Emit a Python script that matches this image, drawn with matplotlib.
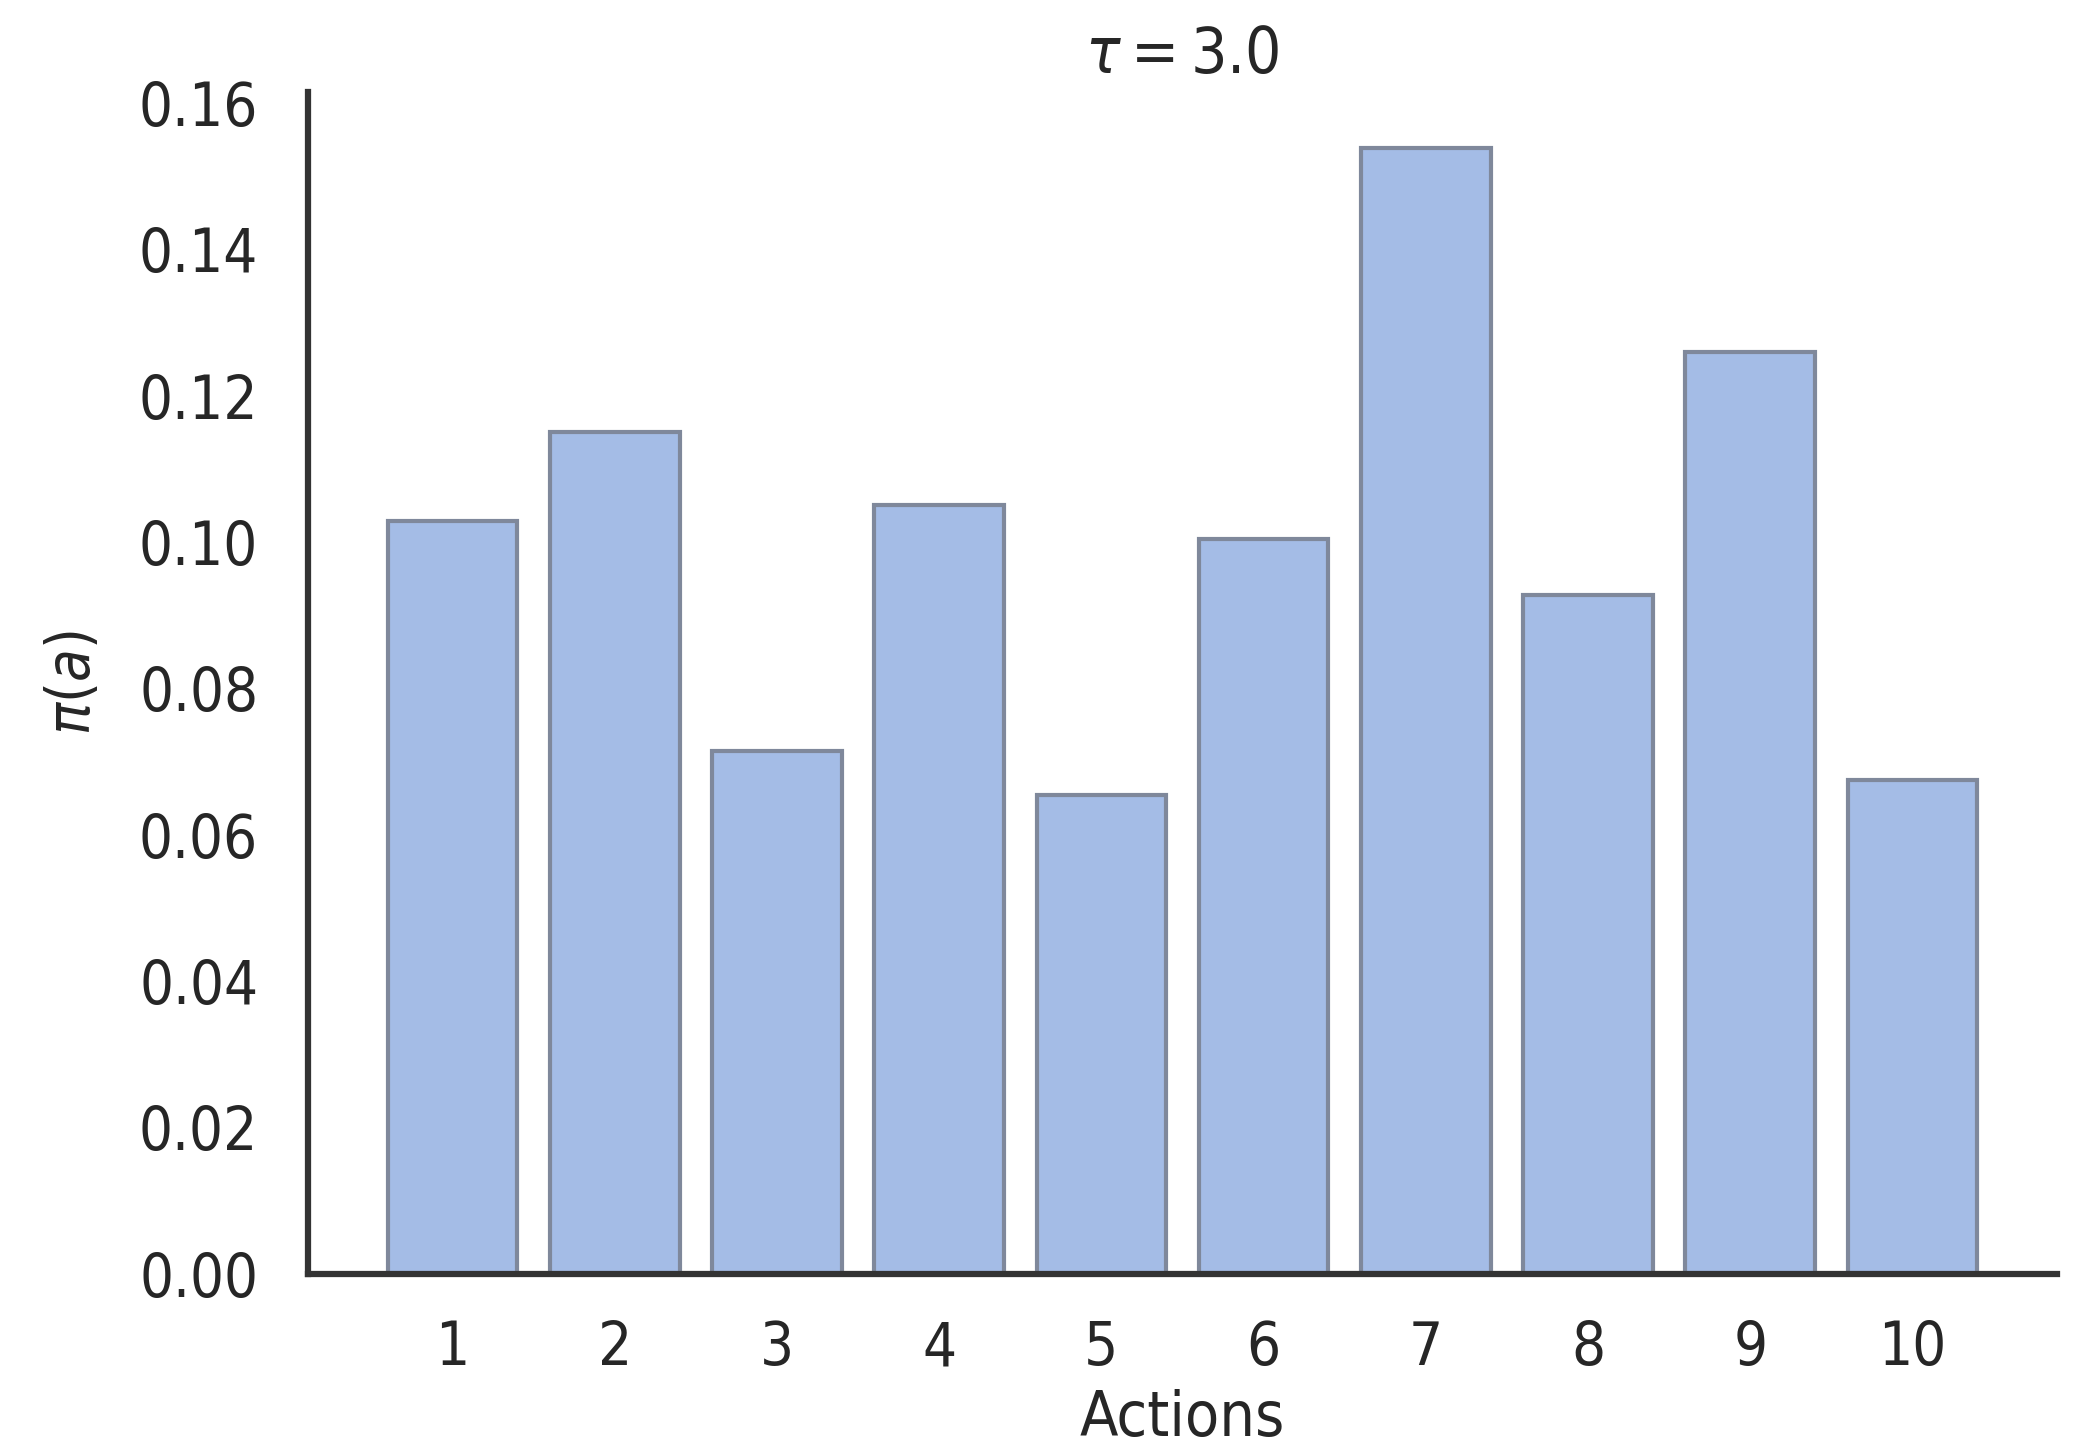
import numpy as np
import matplotlib
matplotlib.use("Agg")
import matplotlib.pyplot as plt

# softmax policy values
actions = [1, 2, 3, 4, 5, 6, 7, 8, 9, 10]
probs = [0.1028, 0.1150, 0.0714, 0.1050, 0.0654, 0.1004, 0.1538, 0.0928, 0.1259, 0.0674]
tau = 3.0

plt.rcParams['font.family'] = ['DejaVu Sans']
plt.rcParams['font.stretch'] = 'condensed'
plt.rcParams['mathtext.fontset'] = 'dejavusans'

fig = plt.figure(figsize=(20.74, 14.48), dpi=100)
ax = fig.add_axes([0.1486, 0.1205, 0.8431, 0.816])

ax.bar(actions, probs, width=0.8, color='#a4bce6', edgecolor='#7f889b', linewidth=3)

ax.set_xticks(actions)
ax.set_xticklabels([str(a) for a in actions])
ax.set_yticks(np.arange(0, 0.17, 0.02))
ax.set_yticklabels(['%.2f' % v for v in np.arange(0, 0.17, 0.02)])

for s in ['top', 'right']:
    ax.spines[s].set_visible(False)
for s in ['left', 'bottom']:
    ax.spines[s].set_linewidth(4.5)
    ax.spines[s].set_color('#333333')

ax.tick_params(axis='both', length=0, labelsize=43, colors='#262626')
ax.tick_params(axis='x', pad=33)
ax.tick_params(axis='y', pad=36)

ax.set_title(r'$\tau = %.1f$' % tau, fontsize=46, color='#262626', pad=14)
ax.set_xlabel('Actions', fontsize=45, color='#262626', labelpad=8)
ax.set_ylabel(r'$\pi(a)$', fontsize=43, color='#262626', labelpad=26)

fig.savefig('out.png', dpi=100, facecolor='white')
